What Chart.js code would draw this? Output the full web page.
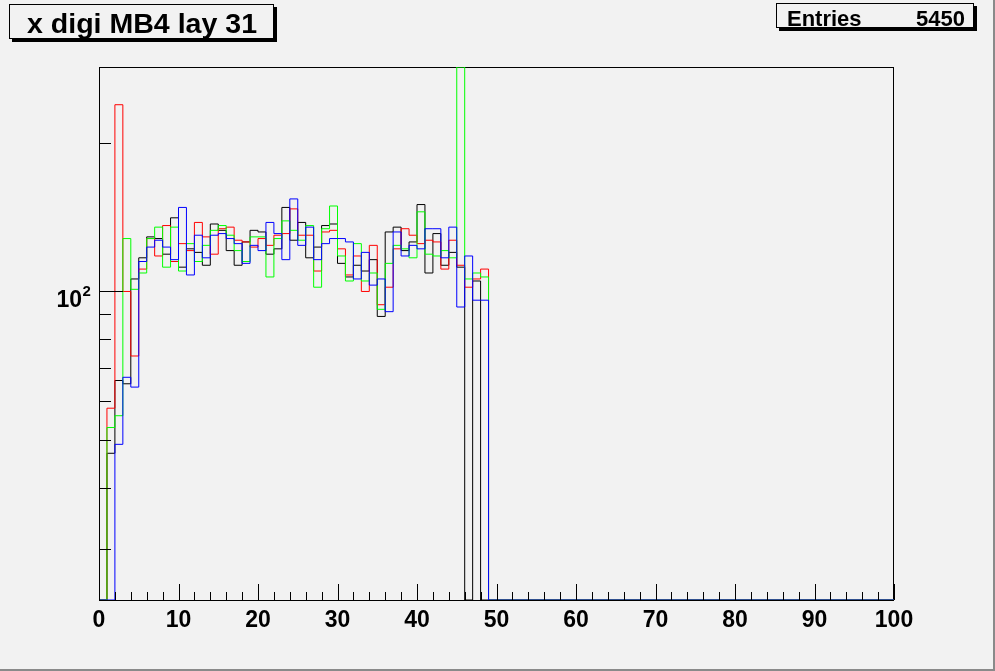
<!DOCTYPE html>
<html>
<head>
<meta charset="utf-8">
<script src="https://cdn.jsdelivr.net/npm/chart.js@4.4.1/dist/chart.umd.min.js"></script>
<style>
html,body{margin:0;padding:0;background:#f2f2f2;overflow:hidden;}
canvas{display:block;}
</style>
</head>
<body>
<canvas id="c" width="995" height="671"></canvas>
<script>
// ---- data (bin lower edges, counts per bin; bins 50..99 are empty for all series) ----
const binLow = [0,1,2,3,4,5,6,7,8,9,10,11,12,13,14,15,16,17,18,19,20,21,22,23,24,25,26,27,28,29,30,31,32,33,34,35,36,37,38,39,40,41,42,43,44,45,46,47,48,49];
const xRangeMax = 100;
const xTickValues = [0,10,20,30,40,50,60,70,80,90,100];
const yTickValue = 100;
const yMin = 23.7;
const yMax = 285;

const blackCounts = [0,47,66,65,106,117,129,128,119,141,112,122,120,113,137,133,121,113,126,133,132,119,122,148,127,138,117,123,136,137,114,107,113,110,116,89,132,135,121,126,150,109,131,113,120,112,0,105,0,0];
const redCounts   = [0,58,239,100,74,111,128,118,136,115,125,121,138,129,119,134,135,127,126,123,128,124,130,131,147,130,130,110,132,133,122,108,118,100,124,94,102,122,134,130,125,127,126,111,127,113,102,106,111,0];
const greenCounts = [0,53,56,128,101,109,128,135,112,135,110,125,115,124,133,136,130,121,115,129,129,107,128,139,133,127,136,102,134,149,118,105,125,105,109,92,114,124,122,117,145,119,118,121,117,285,106,109,107,0];
const blueCounts  = [0,0,49,67,64,115,123,127,123,116,148,108,130,117,130,131,128,125,114,124,121,138,131,116,154,124,135,116,125,128,128,126,106,120,103,106,91,132,118,124,122,134,134,117,135,93,118,96,96,0];

const entriesText = "Entries";
const entriesValue = "5450";
const titleText = "x digi MB4 lay 31";

// ---- helpers ----
function stepPoints(counts){
  const pts = counts.map((v,i)=>({x: binLow[i], y: Math.max(v, yMin)}));
  pts.push({x: xRangeMax, y: yMin});
  return pts;
}
const FONT = '"Liberation Sans", Arial, Helvetica, sans-serif';

function fitText(ctx, txt, x, y, targetW, align){
  const w = ctx.measureText(txt).width;
  const s = targetW / w;
  ctx.save();
  ctx.translate(x, y);
  ctx.scale(s, 1);
  ctx.textAlign = align || 'left';
  ctx.fillText(txt, 0, 0);
  ctx.restore();
}

const rootDecor = {
  id: 'rootDecor',
  beforeDraw(chart){
    const ctx = chart.ctx;
    ctx.save();
    ctx.fillStyle = '#f2f2f2';
    ctx.fillRect(0,0,chart.width,chart.height);
    // canvas border (right / bottom darker)
    ctx.fillStyle = '#8a8a8a';
    ctx.fillRect(chart.width-2, 0, 2, chart.height);
    ctx.fillRect(0, chart.height-2, chart.width, 2);
    ctx.restore();
  },
  beforeDatasetsDraw(chart){
    const ctx = chart.ctx, a = chart.chartArea;
    ctx.save();
    ctx.strokeStyle = '#000';
    ctx.lineWidth = 1;
    ctx.strokeRect(Math.round(a.left)+0.5, Math.round(a.top)+0.5, Math.round(a.right-a.left)-1, Math.round(a.bottom-a.top));
    ctx.restore();
  },
  afterDatasetsDraw(chart){
    const ctx = chart.ctx, a = chart.chartArea;
    const xs = chart.scales.x, ys = chart.scales.y;
    ctx.save();
    ctx.strokeStyle = '#000';
    ctx.lineWidth = 1;
    ctx.beginPath();
    // x ticks: major every 10, minor every 2
    for (let v = 0; v <= xRangeMax; v += 2){
      const px = Math.round(xs.getPixelForValue(v)) + 0.5;
      const len = (v % 10 === 0) ? 16 : 8;
      ctx.moveTo(px, a.bottom);
      ctx.lineTo(px, a.bottom - len);
    }
    // y ticks (log): minor at 30..90, 200; major at 100
    const minors = [30,40,50,60,70,80,90,200];
    minors.forEach(v=>{
      const py = Math.round(ys.getPixelForValue(v)) + 0.5;
      ctx.moveTo(a.left, py); ctx.lineTo(a.left + 12, py);
    });
    const py = Math.round(ys.getPixelForValue(yTickValue)) + 0.5;
    ctx.moveTo(a.left, py); ctx.lineTo(a.left + 24, py);
    ctx.stroke();
    ctx.restore();
  },
  afterDraw(chart){
    const ctx = chart.ctx;
    const ys = chart.scales.y;
    ctx.save();
    ctx.fillStyle = '#000';
    // y label 10^2
    const y100 = ys.getPixelForValue(yTickValue);
    ctx.font = 'bold 23px ' + FONT;
    ctx.textBaseline = 'alphabetic';
    ctx.textAlign = 'right';
    ctx.fillText('10', 82, y100 + 16);
    ctx.font = 'bold 15px ' + FONT;
    ctx.textAlign = 'left';
    ctx.fillText('2', 82.5, y100 + 5);

    // title box
    ctx.fillStyle = '#000';
    ctx.fillRect(12, 39, 265, 3);
    ctx.fillRect(274, 7, 3, 35);
    ctx.fillStyle = '#f2f2f2';
    ctx.fillRect(9, 4, 265, 35);
    ctx.strokeStyle = '#000'; ctx.lineWidth = 1;
    ctx.strokeRect(9.5, 4.5, 264, 34);
    ctx.fillStyle = '#000';
    ctx.font = 'bold 28px ' + FONT;
    ctx.textBaseline = 'alphabetic';
    fitText(ctx, titleText, 27, 33, 230, 'left');

    // stats box
    ctx.fillStyle = '#000';
    ctx.fillRect(779, 28, 198, 3);
    ctx.fillRect(974, 6, 3, 25);
    ctx.fillStyle = '#f2f2f2';
    ctx.fillRect(776, 3, 198, 25);
    ctx.strokeRect(776.5, 3.5, 197, 24);
    ctx.fillStyle = '#000';
    ctx.font = 'bold 22px ' + FONT;
    ctx.textAlign = 'left';
    ctx.fillText(entriesText, 787, 26);
    ctx.textAlign = 'right';
    ctx.fillText(entriesValue, 965, 26);
    ctx.restore();
  }
};

const mk = (label, counts, color, order) => ({
  label, data: stepPoints(counts), borderColor: color, backgroundColor: color,
  borderWidth: 1, pointRadius: 0, fill: false, stepped: 'before', tension: 0, order
});

new Chart(document.getElementById('c'), {
  type: 'line',
  data: {
    datasets: [
      mk('black', blackCounts, '#000000', 4),
      mk('red', redCounts, '#ff0000', 3),
      mk('green', greenCounts, '#00ff00', 2),
      mk('blue', blueCounts, '#0000ff', 1)
    ]
  },
  options: {
    responsive: false,
    animation: false,
    devicePixelRatio: 1,
    layout: { padding: { left: 0, top: 67, right: 101, bottom: 0 } },
    plugins: { legend: { display: false }, tooltip: { enabled: false }, title: { display: false } },
    scales: {
      x: {
        type: 'linear', min: 0, max: xRangeMax,
        grid: { display: false, drawTicks: false },
        border: { display: false },
        afterBuildTicks: (s) => { s.ticks = xTickValues.map(v => ({ value: v })); },
        afterFit: (s) => { s.height = 71; },
        ticks: {
          color: '#000', padding: 7, maxRotation: 0, autoSkip: false,
          font: { family: FONT, size: 23, weight: 'bold' },
          callback: (v) => String(v)
        }
      },
      y: {
        type: 'logarithmic', min: yMin, max: yMax,
        grid: { display: false, drawTicks: false },
        border: { display: false },
        afterBuildTicks: (s) => { s.ticks = [{ value: yTickValue }]; },
        afterFit: (s) => { s.width = 99; },
        ticks: { display: false }
      }
    }
  },
  plugins: [rootDecor]
});
</script>
</body>
</html>
